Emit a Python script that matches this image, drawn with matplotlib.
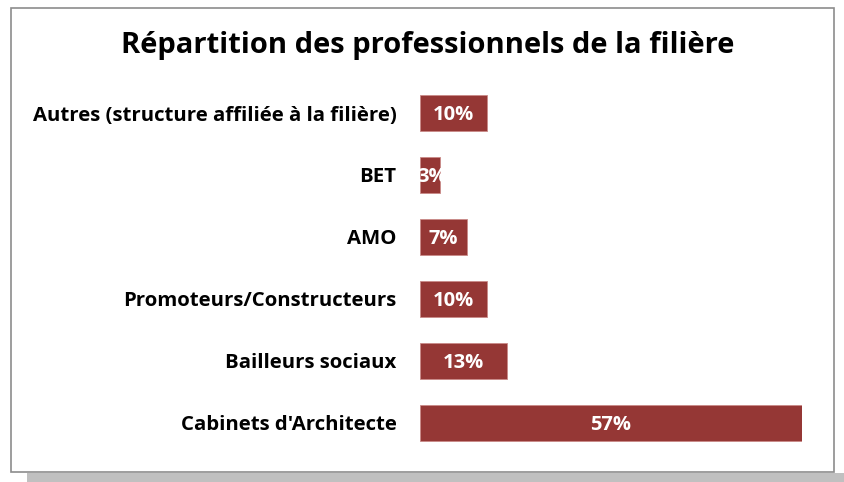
import matplotlib.pyplot as plt
from matplotlib.patches import Rectangle

# Données du graphique
categories = ["Cabinets d'Architecte", "Bailleurs sociaux", "Promoteurs/Constructeurs",
              "AMO", "BET", "Autres (structure affiliée à la filière)"]
pourcentages = [57, 13, 10, 7, 3, 10]
etiquettes = ["57%", "13%", "10%", "7%", "3%", "10%"]

couleur_barre = '#953735'
police = ['Open Sans', 'DejaVu Sans']

fig = plt.figure(figsize=(8.44, 4.82), dpi=100)
W, H = 844, 482

# Cadre et ombre
fig.patches.append(Rectangle((27 / W, 0), (844 - 27) / W, 9 / H, transform=fig.transFigure,
                             facecolor='#c0c0c0', edgecolor='none', zorder=0))
fig.patches.append(Rectangle((11 / W, (H - 472) / H), (834 - 11) / W, (472 - 8) / H,
                             transform=fig.transFigure, facecolor='white',
                             edgecolor='#8c8c8c', linewidth=1.2, zorder=1))

# Axes : x de 420 à 802 px pour 57 %
x0, x1 = 420, 802
ax = fig.add_axes([x0 / W, (H - 454) / H, (x1 - x0) / W, (454 - 82) / H])
ax.set_facecolor('none')
ax.set_zorder(3)

y = range(len(categories))
barres = ax.barh(y, pourcentages, height=0.58, color=couleur_barre,
                 edgecolor='#c98a88', linewidth=0.6)
ax.set_xlim(0, 57)
ax.set_ylim(-0.5, len(categories) - 0.5)

# Étiquettes blanches, coupées au bord de la barre (comme « 3% »)
for i, (v, lab, b) in enumerate(zip(pourcentages, etiquettes, barres)):
    t = ax.text(max(v / 2, 1.75), i - 0.03, lab, ha='center', va='center', color='white',
                fontsize=14.5, fontweight='bold', family=police)
    t.set_clip_path(b)

ax.set_yticks(list(y))
ax.set_yticklabels(categories, fontsize=14.7, fontweight='bold', family=police)
ax.tick_params(axis='y', length=0, pad=17)
ax.set_xticks([])
for s in ax.spines.values():
    s.set_visible(False)

fig.text(428 / W, (H - 45) / H, "Répartition des professionnels de la filière",
         ha='center', va='center', fontsize=21, fontweight='bold', family=police, zorder=4)

fig.savefig('out.png', dpi=100)
